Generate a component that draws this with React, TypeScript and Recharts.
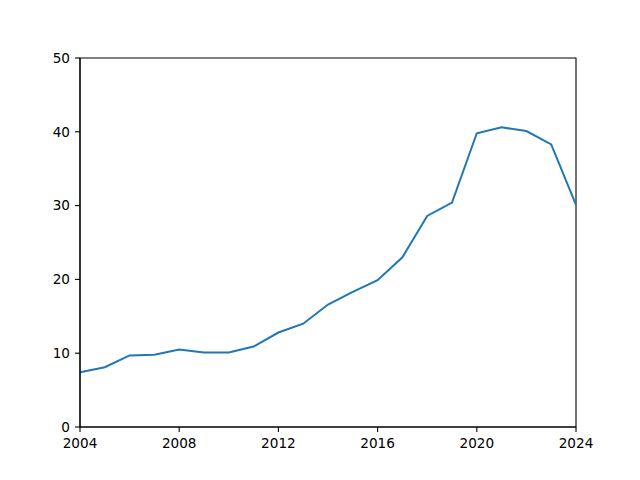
import React from "react";
import { LineChart, Line, XAxis, YAxis, ReferenceArea } from "recharts";

const years = [2004, 2005, 2006, 2007, 2008, 2009, 2010, 2011, 2012, 2013, 2014, 2015, 2016, 2017, 2018, 2019, 2020, 2021, 2022, 2023, 2024];
const values = [7.4, 8.1, 9.7, 9.8, 10.5, 10.1, 10.1, 10.9, 12.8, 14.0, 16.6, 18.3, 19.9, 23.0, 28.6, 30.4, 39.8, 40.6, 40.1, 38.3, 30.1];
const xTicks = [2004, 2008, 2012, 2016, 2020, 2024];
const yTicks = [0, 10, 20, 30, 40, 50];

const data = years.map((y, i) => ({ year: y, value: values[i] }));

const font = { fontFamily: "DejaVu Sans", fontSize: 13.6, fill: "#000" };

export default function App() {
  return (
    <div style={{ position: "absolute", left: 0, top: 0, width: 640, height: 480, background: "#fff" }}>
      <LineChart width={640} height={480} data={data} margin={{ top: 58, right: 64, bottom: 0, left: 0 }}>
        <XAxis
          dataKey="year"
          type="number"
          domain={[2004, 2024]}
          ticks={xTicks}
          height={53}
          tickSize={5}
          tickMargin={6}
          tick={font}
          stroke="#000"
          axisLine={{ stroke: "#000", strokeWidth: 1.1 }}
          tickLine={{ stroke: "#000", strokeWidth: 1.1 }}
          allowDataOverflow
        />
        <YAxis
          type="number"
          domain={[0, 50]}
          ticks={yTicks}
          width={80}
          tickSize={5}
          tickMargin={5}
          tick={font}
          stroke="#000"
          axisLine={{ stroke: "#000", strokeWidth: 1.1 }}
          tickLine={{ stroke: "#000", strokeWidth: 1.1 }}
          allowDataOverflow
        />
        <ReferenceArea
          x1={2004}
          x2={2024}
          y1={0}
          y2={50}
          fill="none"
          fillOpacity={0}
          stroke="#000"
          strokeWidth={1.1}
          strokeOpacity={1}
        />
        <Line
          type="linear"
          dataKey="value"
          stroke="#1f77b4"
          strokeWidth={2}
          dot={false}
          isAnimationActive={false}
        />
      </LineChart>
    </div>
  );
}
